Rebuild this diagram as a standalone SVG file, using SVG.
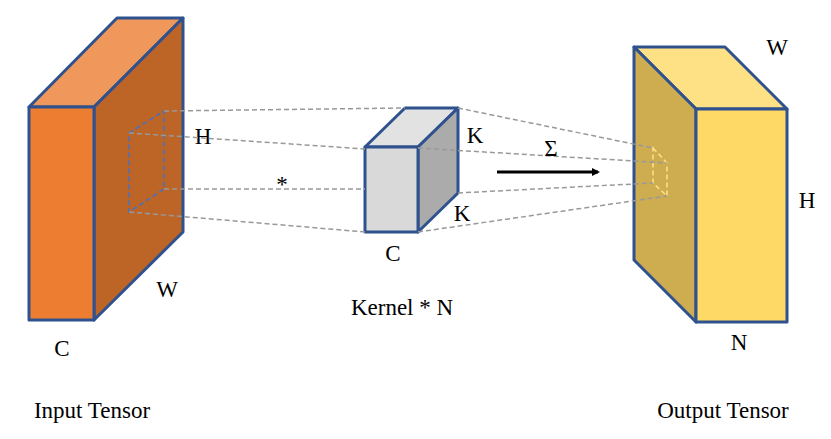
<svg xmlns="http://www.w3.org/2000/svg" width="831" height="439" viewBox="0 0 831 439">
<style>
.e{stroke:#2F528F;stroke-width:3;stroke-linejoin:round}
.d{stroke:#999;stroke-width:1.5;stroke-dasharray:5 3;fill:none}
text{font-family:"Liberation Serif",serif;font-size:23px;fill:#000;text-anchor:middle}
</style>
<defs><marker id="ah" markerWidth="8" markerHeight="8" refX="6" refY="4" orient="auto" markerUnits="userSpaceOnUse" viewBox="0 0 8 8"><path d="M0,0L8,4L0,8z"/></marker></defs>
<rect width="831" height="439" fill="#fff"/>
<g id="input">
<polygon class="e" points="29,107 117,18 183,18 94,107" fill="#F0985B"/>
<polygon class="e" points="94,107 183,18 183,232 94,320" fill="#BD6427"/>
<rect class="e" x="29" y="107" width="65" height="213" fill="#ED7D31"/>
<polygon points="129,133 164,111 164,189 129,212" fill="none" stroke="#4472C4" stroke-width="1.5" stroke-dasharray="5 3"/>
<text x="203" y="144">H</text><text x="167" y="297">W</text><text x="62" y="356">C</text>
<text x="92" y="418">Input Tensor</text>
</g>
<g id="kernel">
<polygon class="e" points="365,147 405,108 458,108 418,147" fill="#E2E2E2"/>
<polygon class="e" points="418,147 458,108 458,193 418,232" fill="#ABABAB"/>
<rect class="e" x="365" y="147" width="53" height="85" fill="#D9D9D9"/>
<text x="475" y="143">K</text><text x="462" y="221">K</text><text x="393" y="261">C</text>
<text x="402" y="315">Kernel * N</text>
</g>
<g id="output">
<polygon class="e" points="634,47 725,47 787,109 696,109" fill="#FEE085"/>
<polygon class="e" points="634,47 696,109 696,322 634,260" fill="#CEAD50"/>
<rect class="e" x="696" y="109" width="91" height="213" fill="#FFD966"/>
<polygon points="653,148 667,163 667,196 653,183" fill="none" stroke="#FFE08A" stroke-width="1.5" stroke-dasharray="5 3"/>
<text x="777" y="55">W</text><text x="807" y="208">H</text><text x="739" y="350">N</text>
<text x="723" y="418">Output Tensor</text>
</g>
<g id="connectors">
<path class="d" d="M164,111L405,108M129,133L365,149M164,189L365,189M129,212L365,232M458,108L653,148M418,148L667,163M458,193L653,183M418,232L667,196"/>
<path d="M497,172L598,172" stroke="#000" stroke-width="3" marker-end="url(#ah)"/>
<text x="282" y="192" font-size="26">*</text>
<text x="551" y="156" font-size="30">Σ</text>
</g>
</svg>
